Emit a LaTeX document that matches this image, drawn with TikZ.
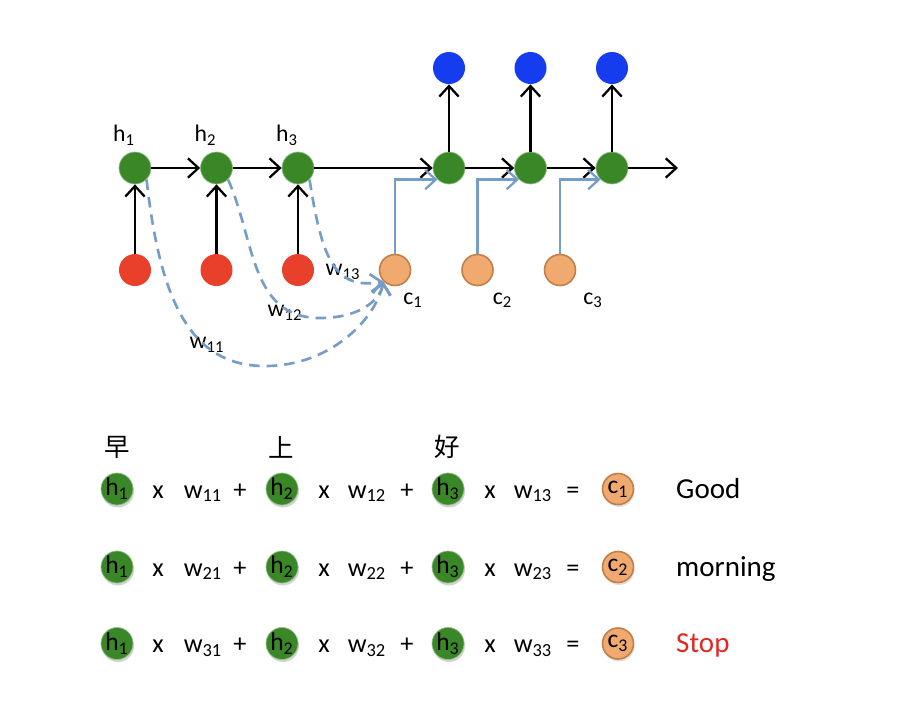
\documentclass[tikz,border=0pt]{standalone}
\usepackage{fontspec}
\setmainfont{Carlito}
\newfontfamily\cjk{Noto Sans CJK SC}
\usetikzlibrary{arrows.meta,shadows}
\definecolor{hgreen}{RGB}{58,135,40}
\definecolor{xred}{RGB}{232,64,42}
\definecolor{yblue}{RGB}{22,60,240}
\definecolor{corange}{RGB}{240,170,112}
\definecolor{cborder}{RGB}{196,124,72}
\definecolor{linkblue}{RGB}{118,156,200}
\definecolor{stopred}{RGB}{222,40,36}

\begin{document}
\begin{tikzpicture}[
    node distance=1.63cm,
    >={Straight Barb[length=6pt,width=11pt]},
    hid/.style={circle, fill=hgreen, draw=hgreen!55!white, minimum size=0.64cm, inner sep=0pt},
    inp/.style={circle, fill=xred, minimum size=0.64cm, inner sep=0pt},
    outp/.style={circle, fill=yblue, minimum size=0.64cm, inner sep=0pt},
    ctx/.style={circle, fill=corange, draw=cborder, line width=0.9pt, minimum size=0.62cm, inner sep=0pt},
    transition/.style={->, line width=1.3pt},
    feed/.style={->, line width=1.3pt, linkblue},
    attn/.style={->, line width=1.5pt, linkblue, dash pattern=on 6pt off 4pt},
    lbl/.style={font=\fontsize{13.5}{16}\selectfont},
    term/.style={font=\fontsize{15}{18}\selectfont, anchor=base},
    hsmall/.style={hid, drop shadow={opacity=0.35, shadow xshift=0.02cm, shadow yshift=-0.05cm}, font=\fontsize{14.5}{17}\selectfont},
    csmall/.style={ctx, drop shadow={opacity=0.25, shadow xshift=0.02cm, shadow yshift=-0.05cm}, font=\fontsize{14.5}{17}\selectfont}
]
\useasboundingbox (0,0) rectangle (18.08,-14.2);

% encoder
\node[hid, label={[lbl, xshift=-0.22cm]above:h\textsubscript{1}}] (h1) at (2.70,-3.36) {};
\node[hid, right of=h1, label={[lbl, xshift=-0.22cm]above:h\textsubscript{2}}] (h2) {};
\node[hid, right of=h2, label={[lbl, xshift=-0.22cm]above:h\textsubscript{3}}] (h3) {};
\node[inp, below of=h1, node distance=2.04cm] (x1) {};
\node[inp, below of=h2, node distance=2.04cm] (x2) {};
\node[inp, below of=h3, node distance=2.04cm] (x3) {};

% decoder
\node[hid] (d1) at (8.98,-3.36) {};
\node[hid, right of=d1] (d2) {};
\node[hid, right of=d2] (d3) {};
\coordinate (dend) at (13.56,-3.36);
\node[outp, above of=d1, node distance=2cm] (y1) {};
\node[outp, above of=d2, node distance=2cm] (y2) {};
\node[outp, above of=d3, node distance=2cm] (y3) {};
\node[ctx, label={[lbl, xshift=0.36cm]below:c\textsubscript{1}}] (c1) at (7.90,-5.40) {};
\node[ctx, right of=c1, node distance=1.65cm, label={[lbl, xshift=0.50cm]below:c\textsubscript{2}}] (c2) {};
\node[ctx, right of=c2, node distance=1.65cm, label={[lbl, xshift=0.66cm]below:c\textsubscript{3}}] (c3) {};

\draw[transition] (h1) -- (h2);
\draw[transition] (h2) -- (h3);
\draw[transition] (h3) -- (d1);
\draw[transition] (d1) -- (d2);
\draw[transition] (d2) -- (d3);
\draw[transition] (d3) -- (dend);
\foreach \i in {1,2,3} {
  \draw[transition] (x\i) -- (h\i);
  \draw[transition] (d\i) -- (y\i);
  \draw[feed] (c\i) |- (d\i.south west);
}

% attention weights
\node[lbl] (w13) at (6.86,-5.44) {w\textsubscript{13}};
\node[lbl] (w12) at (5.70,-6.26) {w\textsubscript{12}};
\node[lbl] (w11) at (4.14,-6.90) {w\textsubscript{11}};
\draw[attn] (h1.south east) .. controls (3.20,-6.00) and (3.80,-7.32) .. (5.30,-7.32)
  .. controls (6.60,-7.32) and (7.50,-6.40) .. (c1.south west);
\draw[attn] (h2.south east) .. controls (5.10,-4.80) and (5.00,-6.36) .. (6.40,-6.36)
  .. controls (7.20,-6.36) and (7.60,-6.00) .. (c1.south west);
\draw[attn] (h3.south east) .. controls (6.44,-5.20) and (6.70,-5.80) .. (c1.south west);

% weighted sums
\node[font=\cjk\fontsize{14.5}{17}\selectfont] (z1) at (2.34,-8.94) {早};
\node[font=\cjk\fontsize{14.5}{17}\selectfont] (z2) at (5.63,-8.94) {上};
\node[font=\cjk\fontsize{14.5}{17}\selectfont] (z3) at (8.95,-8.94) {好};
\foreach \r/\yy/\word/\wc in {1/-9.78/Good/black, 2/-11.34/morning/black, 3/-12.87/Stop/stopred} {
  \node[hsmall] (a\r) at (2.34,\yy) {h\textsubscript{1}};
  \node[term] (ta\r) at (3.16,\yy-0.18) {x};
  \node[term] (wa\r) at (4.06,\yy-0.18) {w\textsubscript{\r1}};
  \node[term] (pa\r) at (4.80,\yy-0.18) {+};
  \node[hsmall] (b\r) at (5.64,\yy) {h\textsubscript{2}};
  \node[term] (tb\r) at (6.48,\yy-0.18) {x};
  \node[term] (wb\r) at (7.34,\yy-0.18) {w\textsubscript{\r2}};
  \node[term] (pb\r) at (8.14,\yy-0.18) {+};
  \node[hsmall] (e\r) at (8.96,\yy) {h\textsubscript{3}};
  \node[term] (te\r) at (9.80,\yy-0.18) {x};
  \node[term] (we\r) at (10.66,\yy-0.18) {w\textsubscript{\r3}};
  \node[term] (q\r) at (11.46,\yy-0.18) {=};
  \node[csmall] (s\r) at (12.36,\yy) {c\textsubscript{\r}};
  \node[term, anchor=base west, text=\wc, font=\fontsize{16.5}{20}\selectfont] (o\r) at (13.40,\yy-0.18) {\word};
}
\end{tikzpicture}
\end{document}
